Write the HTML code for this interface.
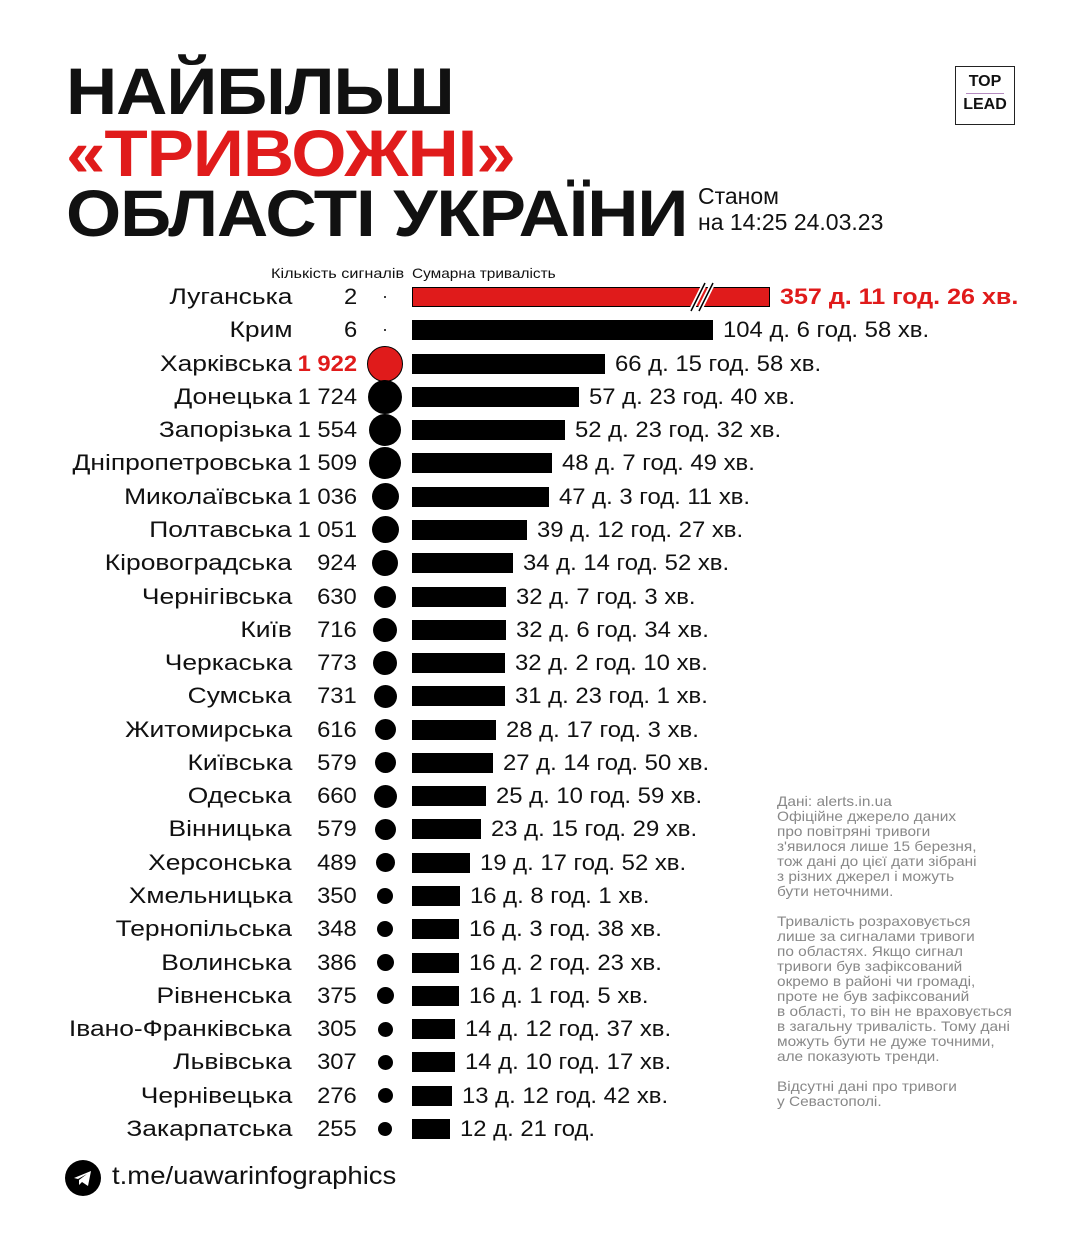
<!DOCTYPE html>
<html><head><meta charset="utf-8"><style>
body{margin:0;background:#fff;}
#p{position:relative;width:1080px;height:1250px;overflow:hidden;font-family:"Liberation Sans","DejaVu Sans",sans-serif;color:#111;}
.t{position:absolute;left:66px;font-weight:900;font-size:66px;line-height:66px;letter-spacing:-1px;white-space:nowrap;transform:scaleX(1.075);transform-origin:left}
.a{position:absolute;white-space:nowrap}
.n{position:absolute;right:788px;font-size:22px;line-height:26px;text-align:right;white-space:nowrap;transform:scaleX(1.2);transform-origin:right}
.c{position:absolute;right:723px;font-size:22px;line-height:26px;text-align:right;white-space:nowrap;transform:scaleX(1.08);transform-origin:right}
.d{position:absolute;background:#000;border-radius:50%}
.b{position:absolute;left:412px;height:20px;background:#000}
.v{position:absolute;font-size:22px;line-height:26px;white-space:nowrap;transform:scaleX(1.085);transform-origin:left}
.note{position:absolute;left:777px;font-size:14px;line-height:15px;color:#888;white-space:nowrap;transform:scaleX(1.1);transform-origin:left}
</style></head><body><div id="p">
<div class="t" style="top:58px">НАЙБІЛЬШ</div>
<div class="t" style="top:120px;color:#e01b1b">«ТРИВОЖНІ»</div>
<div class="t" style="top:180px">ОБЛАСТІ УКРАЇНИ</div>
<div class="a" style="left:698px;top:183px;font-size:23px;line-height:26px">Станом<br>на 14:25 24.03.23</div>
<div class="a" style="left:955px;top:66px;width:58px;height:57px;border:1.5px solid #222;text-align:center;font-size:16px;font-weight:bold;line-height:22px"><div style="margin-top:4px">TOP</div><div style="width:38px;margin:0 auto;border-top:1px solid #b58bc0"></div><div>LEAD</div></div>
<div class="a" style="left:271px;top:265px;font-size:14px;transform:scaleX(1.16);transform-origin:left">Кількість сигналів</div>
<div class="a" style="left:412px;top:265px;font-size:14px;transform:scaleX(1.1);transform-origin:left">Сумарна тривалість</div>
<div id="rows"></div>
<div class="note" style="top:794px">Дані: alerts.in.ua<br>Офіційне джерело даних<br>про повітряні тривоги<br>з'явилося лише 15 березня,<br>тож дані до цієї дати зібрані<br>з різних джерел і можуть<br>бути неточними.<br><br>Тривалість розраховується<br>лише за сигналами тривоги<br>по областях. Якщо сигнал<br>тривоги був зафіксований<br>окремо в районі чи громаді,<br>проте не був зафіксований<br>в області, то він не враховується<br>в загальну тривалість. Тому дані<br>можуть бути не дуже точними,<br>але показують тренди.<br><br>Відсутні дані про тривоги<br>у Севастополі.</div>
<div class="a" style="left:65px;top:1160px;width:36px;height:36px;border-radius:50%;background:#000"><svg width="36" height="36" viewBox="0 0 36 36"><path d="M9 18 L26 11 L23 26 L17 22 L14 25 L14 20 L22 14 L13 19 Z" fill="#fff"/></svg></div>
<div class="a" style="left:112px;top:1162px;font-size:25px;transform:scaleX(1.1);transform-origin:left">t.me/uawarinfographics</div>
</div>
<script>
const R=[["Луганська","2",0,770,"357 д. 11 год. 26 хв."],["Крим","6",0,713,"104 д. 6 год. 58 хв."],["Харківська","1 922",36,605,"66 д. 15 год. 58 хв."],["Донецька","1 724",34,579,"57 д. 23 год. 40 хв."],["Запорізька","1 554",32,565,"52 д. 23 год. 32 хв."],["Дніпропетровська","1 509",32,552,"48 д. 7 год. 49 хв."],["Миколаївська","1 036",27,549,"47 д. 3 год. 11 хв."],["Полтавська","1 051",27,527,"39 д. 12 год. 27 хв."],["Кіровоградська","924",26,513,"34 д. 14 год. 52 хв."],["Чернігівська","630",22,506,"32 д. 7 год. 3 хв."],["Київ","716",24,506,"32 д. 6 год. 34 хв."],["Черкаська","773",24,505,"32 д. 2 год. 10 хв."],["Сумська","731",23,505,"31 д. 23 год. 1 хв."],["Житомирська","616",21,496,"28 д. 17 год. 3 хв."],["Київська","579",21,493,"27 д. 14 год. 50 хв."],["Одеська","660",23,486,"25 д. 10 год. 59 хв."],["Вінницька","579",21,481,"23 д. 15 год. 29 хв."],["Херсонська","489",19,470,"19 д. 17 год. 52 хв."],["Хмельницька","350",16,460,"16 д. 8 год. 1 хв."],["Тернопільська","348",16,459,"16 д. 3 год. 38 хв."],["Волинська","386",17,459,"16 д. 2 год. 23 хв."],["Рівненська","375",17,459,"16 д. 1 год. 5 хв."],["Івано-Франківська","305",15,455,"14 д. 12 год. 37 хв."],["Львівська","307",15,455,"14 д. 10 год. 17 хв."],["Чернівецька","276",15,452,"13 д. 12 год. 42 хв."],["Закарпатська","255",14,450,"12 д. 21 год."]];
let h="";R.forEach((r,i)=>{const y=297+i*33.28;const red=i==0,hk=i==2;
h+=`<div class="n" style="top:${y-13}px">${r[0]}</div>`;
h+=`<div class="c" style="top:${y-13}px;${hk?'color:#e01b1b;font-weight:bold':''}">${r[1]}</div>`;
const s=r[2]||2;h+=`<div class="d" style="left:${385-s/2}px;top:${y-s/2}px;width:${s}px;height:${s}px;${hk?'background:#e01b1b;border:1px solid #000;box-sizing:border-box':''}"></div>`;
h+=`<div class="b" style="top:${y-10}px;width:${r[3]-412}px;${red?'background:#e01b1b;border:1.5px solid #000;box-sizing:border-box':''}"></div>`;
h+=`<div class="v" style="left:${r[3]+10}px;top:${y-13}px;${red?'color:#e01b1b;font-weight:900;font-size:22px;transform:scaleX(1.14)':''}">${r[4]}</div>`;});
h+=`<div class="a" style="left:688px;top:281px;width:30px;height:32px"><svg width="30" height="32"><path d="M3 30 L17 2 M11 30 L25 2" stroke="#fff" stroke-width="5"/><path d="M3 30 L17 2 M11 30 L25 2" stroke="#000" stroke-width="1.5"/></svg></div>`;
document.getElementById("rows").outerHTML=h;
</script></body></html>
